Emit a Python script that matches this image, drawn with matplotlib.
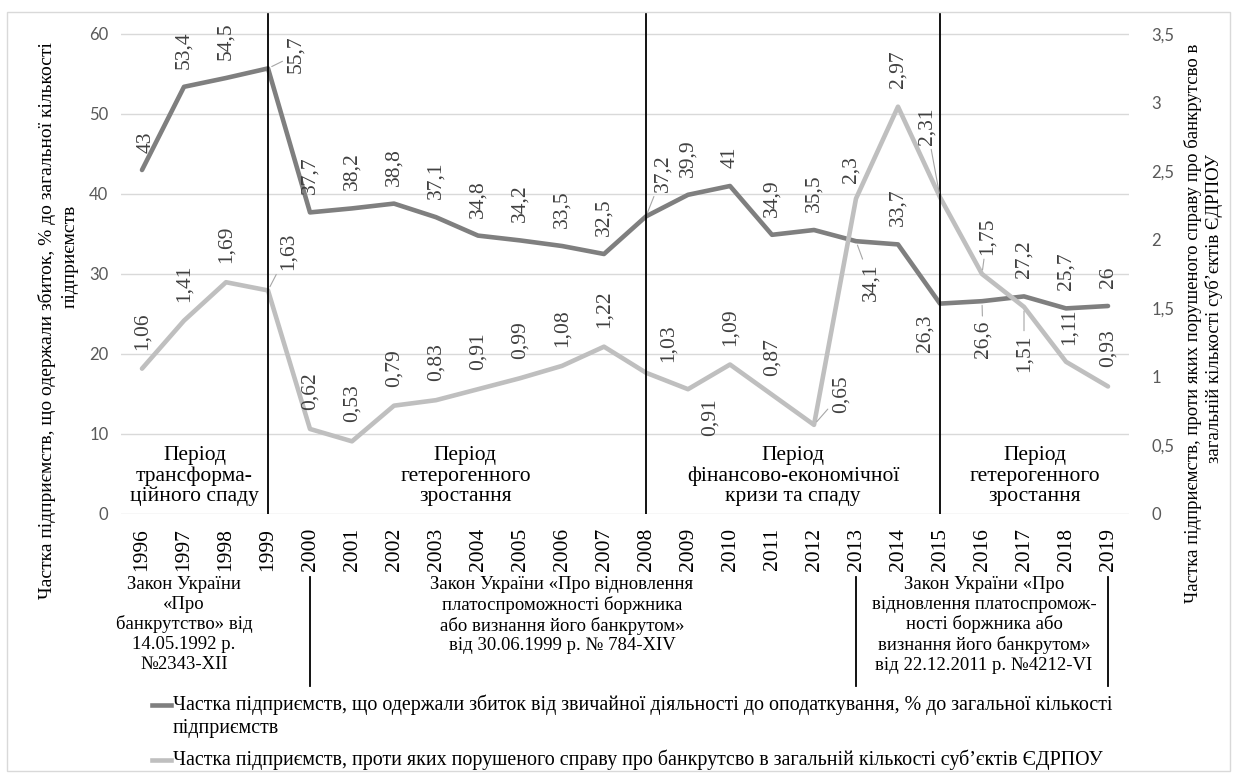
import matplotlib.pyplot as plt
from matplotlib.lines import Line2D
from matplotlib.patches import Rectangle
from matplotlib.transforms import blended_transform_factory

plt.rcParams['font.family'] = ['Liberation Serif', 'DejaVu Serif']

# --- data ---
years = list(range(1996, 2020))
loss_share = [43, 53.4, 54.5, 55.7, 37.7, 38.2, 38.8, 37.1, 34.8, 34.2, 33.5, 32.5,
              37.2, 39.9, 41, 34.9, 35.5, 34.1, 33.7, 26.3, 26.6, 27.2, 25.7, 26]
bankr_share = [1.06, 1.41, 1.69, 1.63, 0.62, 0.53, 0.79, 0.83, 0.91, 0.99, 1.08, 1.22,
               1.03, 0.91, 1.09, 0.87, 0.65, 2.3, 2.97, 2.31, 1.75, 1.51, 1.11, 0.93]
left_ticks = [0, 10, 20, 30, 40, 50, 60]
right_ticks = [0, 0.5, 1, 1.5, 2, 2.5, 3, 3.5]
period_bounds = [1999, 2008, 2015]
period_names = ['Період\nтрансформа-\nційного спаду',
                'Період\nгетерогенного\nзростання',
                'Період\nфінансово-економічної\nкризи та спаду',
                'Період\nгетерогенного\nзростання']
period_x = [1997.25, 2003.7, 2011.5, 2017.25]
law_bounds = [2000, 2013, 2019]
law_texts = ['Закон України\n«Про\nбанкрутство» від\n14.05.1992 р.\n№2343-XII',
             'Закон України «Про відновлення\nплатоспроможності боржника\nабо визнання його банкрутом»\nвід 30.06.1999 р. № 784-XIV',
             'Закон України «Про\nвідновлення платоспромож-\nності боржника або\nвизнання його банкрутом»\nвід 22.12.2011 р. №4212-VI']
law_x = [1997.0, 2006.0, 2016.05]
name_loss = ['Частка підприємств, що одержали збиток від звичайної діяльності до оподаткування, % до загальної кількості',
             'підприємств']
name_bankr = 'Частка підприємств, проти яких порушеного справу про банкрутсво в загальній кількості суб’єктів ЄДРПОУ'

# label placement tweaks (dx px, dy px, va, leader)
dark_adj = {1996: (4, 17, 'bottom', False), 1999: (28, -5, 'bottom', True),
            2008: (17, 24, 'bottom', True), 2013: (15, -22, 'top', True),
            2015: (-15, -11, 'top', False), 2016: (1, -19, 'top', True)}
light_adj = {1999: (20, 20, 'bottom', True), 2008: (22, 11, 'bottom', False),
             2009: (22, -9, 'top', False), 2012: (27, 12, 'bottom', True),
             2013: (-5, 16, 'bottom', False), 2015: (-13, 52, 'bottom', True),
             2016: (5, 19, 'bottom', True), 2017: (0, -28, 'top', True),
             2018: (3, 17, 'bottom', False)}

W, H = 1237, 776
dark = '#7f7f7f'
light = '#bfbfbf'
lab_col = '#404040'

fig = plt.figure(figsize=(W / 100, H / 100), dpi=100)
ax = fig.add_axes([121 / W, (H - 514) / H, 1008 / W, 502 / H])
ax2 = ax.twinx()

ytop = 62.75
ax.set_xlim(1995.5, 2019.5)
ax.set_ylim(0, ytop)
ax2.set_ylim(0, ytop * 3.5 / 60)

ax.plot(years, loss_share, color=dark, lw=3.3, solid_capstyle='round', zorder=3)
ax2.plot(years, bankr_share, color=light, lw=3.3, solid_capstyle='round', zorder=3)

for a in (ax, ax2):
    for s in a.spines.values():
        s.set_visible(False)

ax.set_yticks(left_ticks)
ax.set_yticklabels([str(t) for t in left_ticks])
ax2.set_yticks(right_ticks)
ax2.set_yticklabels([f'{t:g}'.replace('.', ',') for t in right_ticks])
ax.grid(axis='y', color='#d9d9d9', lw=1)
ax.set_axisbelow(True)
ax.tick_params(axis='y', length=0, pad=9, labelcolor='#595959', labelsize=12)
ax2.tick_params(axis='y', length=0, pad=16, labelcolor='#595959', labelsize=12)
for lbl in ax.get_yticklabels() + ax2.get_yticklabels():
    lbl.set_family('Lato')

ax.set_xticks(years)
ax.set_xticklabels([str(y) for y in years], rotation=90, fontsize=15.5)
ax.tick_params(axis='x', length=0, pad=10)

# period boundaries
for x in period_bounds:
    ax2.axvline(x, color='black', lw=1.3, zorder=5)

for x, t in zip(period_x, period_names):
    ax.text(x, 4.75, t, ha='center', va='center', fontsize=15.5, linespacing=1.1)


def put_labels(axis, vals, adj, default_dy):
    for x, v in zip(years, vals):
        dx, dy, va, leader = adj.get(x, (0, default_dy, 'bottom', False))
        props = None
        if leader:
            props = dict(arrowstyle='-', color='#a6a6a6', lw=0.8, shrinkA=1, shrinkB=3)
        axis.annotate(f'{v:g}'.replace('.', ','), (x, v), xytext=(dx, dy),
                      textcoords='offset pixels', rotation=90, ha='center', va=va,
                      fontsize=15.5, color=lab_col, arrowprops=props, zorder=6)


put_labels(ax, loss_share, dark_adj, 18)
put_labels(ax2, bankr_share, light_adj, 19)

# laws under the axis
tr = blended_transform_factory(ax.transData, fig.transFigure)
for x in law_bounds:
    fig.add_artist(Line2D([x, x], [1 - 577 / H, 1 - 686 / H], transform=tr,
                          color='black', lw=1.3))
for x, t in zip(law_x, law_texts):
    fig.text(x, 1 - 576 / H, t, transform=tr, ha='center', va='top',
             fontsize=13.5, linespacing=1.2)

# axis titles
fig.text(47 / W, 1 - 321 / H, 'Частка підприємств, що одержали збиток, % до загальної кількості',
         rotation=90, ha='center', va='center', fontsize=14)
fig.text(70 / W, 1 - 256 / H, 'підприємств', rotation=90, ha='center', va='center', fontsize=14)
fig.text(1193 / W, 1 - 323 / H, 'Частка підприємств, проти яких порушеного справу про банкрутсво в',
         rotation=90, ha='center', va='center', fontsize=13.5)
fig.text(1214 / W, 1 - 309 / H, 'загальній кількості суб’єктів ЄДРПОУ',
         rotation=90, ha='center', va='center', fontsize=13.5)

# legend
fig.add_artist(Line2D([152 / W, 171 / W], [1 - 705 / H] * 2, color=dark, lw=3.3))
fig.text(173 / W, 1 - 705 / H, name_loss[0], ha='left', va='center', fontsize=14.4)
fig.text(173 / W, 1 - 728 / H, name_loss[1], ha='left', va='center', fontsize=14.4)
fig.add_artist(Line2D([152 / W, 171 / W], [1 - 760 / H] * 2, color=light, lw=3.3))
fig.text(173 / W, 1 - 760 / H, name_bankr, ha='left', va='center', fontsize=14.4)

fig.add_artist(Rectangle((7 / W, 1 - 771 / H), 1223 / W, 759 / H, fill=False,
                         edgecolor='#d9d9d9', lw=1, transform=fig.transFigure))

fig.savefig('out.png', dpi=100)
